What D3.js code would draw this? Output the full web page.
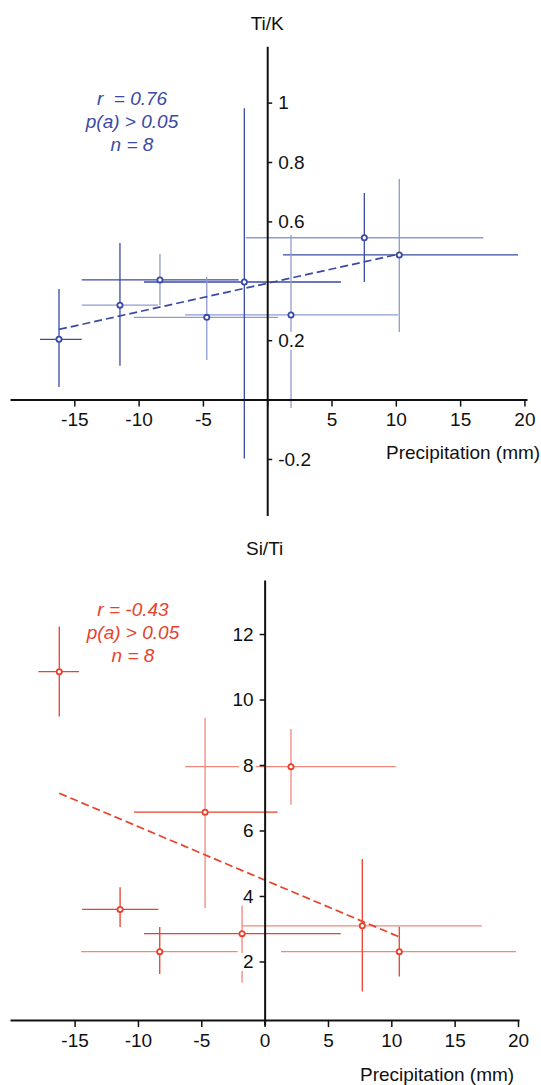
<!DOCTYPE html>
<html>
<head>
<meta charset="utf-8">
<script src="https://cdn.jsdelivr.net/npm/d3@7"></script>
<style>
  body { margin: 0; background: #fff; }
  text { font-family: "Liberation Sans", Arial, sans-serif; }
</style>
</head>
<body>
<div id="chart"></div>
<script>
// precipitation ticks shared by both panels
var xTicks = [-15, -10, -5, 0, 5, 10, 15, 20];

// Ti/K panel
var tiX   = [-16.19, -11.45, -8.34, -4.70, -1.78, 1.85, 7.55, 10.27];
var tiXLo = [-17.67, -14.42, -14.42, -10.36, -9.58, -6.39, -1.67, 1.23];
var tiXHi = [-14.42, -8.51, -2.22, 0.84, 5.74, 10.17, 16.80, 19.50];
var tiY   = [0.203, 0.318, 0.403, 0.277, 0.396, 0.285, 0.545, 0.487];
var tiYLo = [0.042, 0.114, 0.318, 0.133, -0.198, -0.028, 0.396, 0.228];
var tiYHi = [0.372, 0.527, 0.490, 0.413, 0.981, 0.554, 0.696, 0.743];
var tiYTicks = [-0.2, 0.2, 0.6, 0.8, 1];
var tiStats = ["r  = 0.76", "p(a) > 0.05", "n = 8"];

// Si/Ti panel
var siX   = [-16.21, -11.41, -8.28, -4.70, -1.78, 2.08, 7.71, 10.63];
var siXLo = [-17.86, -14.41, -14.49, -10.31, -9.52, -6.28, -1.76, 1.29];
var siXHi = [-14.65, -8.39, -2.12, 1.03, 6.01, 10.35, 17.14, 19.85];
var siY   = [10.85, 3.59, 2.30, 6.56, 2.85, 7.95, 3.09, 2.30];
var siYLo = [9.48, 3.05, 1.62, 3.63, 1.35, 6.79, 1.08, 1.54];
var siYHi = [12.23, 4.27, 3.05, 9.44, 3.93, 9.10, 5.13, 3.06];
var siYTicks = [2, 4, 6, 8, 10, 12];
var siStats = ["r = -0.43", "p(a) > 0.05", "n = 8"];

// which error bars are drawn in the paler tint
var tiPaleH = [0, 1, 0, 1, 0, 1, 1, 0], tiPaleV = [0, 0, 1, 1, 0, 1, 0, 1];
var siPaleH = [0, 0, 1, 0, 0, 1, 1, 1], siPaleV = [0, 0, 0, 1, 1, 1, 0, 0];

var width = 541, height = 1085;
var svg = d3.select("#chart").append("svg")
    .attr("width", width)
    .attr("height", height);

function rows(x, xLo, xHi, y, yLo, yHi, paleH, paleV) {
    return x.map(function (v, i) {
        return {x: v, xLo: xLo[i], xHi: xHi[i], y: y[i], yLo: yLo[i], yHi: yHi[i],
                paleH: paleH[i], paleV: paleV[i]};
    });
}

function fit(data) {
    var mx = d3.mean(data, function (d) { return d.x; }),
        my = d3.mean(data, function (d) { return d.y; });
    var sxy = d3.sum(data, function (d) { return (d.x - mx) * (d.y - my); }),
        sxx = d3.sum(data, function (d) { return (d.x - mx) * (d.x - mx); });
    var b = sxy / sxx, a = my - b * mx;
    var x0 = d3.min(data, function (d) { return d.x; }),
        x1 = d3.max(data, function (d) { return d.x; });
    return [[x0, a + b * x0], [x1, a + b * x1]];
}

function panel(o) {
    var g = svg.append("g");
    var x = d3.scaleLinear().domain(o.xDomain).range(o.xRange);
    var y = d3.scaleLinear().domain(o.yDomain).range(o.yRange);
    var data = o.data;

    // error bars
    g.selectAll(".hbar").data(data).enter().append("line")
        .attr("x1", function (d) { return x(d.xLo); })
        .attr("x2", function (d) { return x(d.xHi); })
        .attr("y1", function (d) { return y(d.y); })
        .attr("y2", function (d) { return y(d.y); })
        .attr("stroke", function (d) { return d.paleH ? o.pale : o.dark; })
        .attr("stroke-width", 1.3);
    g.selectAll(".vbar").data(data).enter().append("line")
        .attr("x1", function (d) { return x(d.x); })
        .attr("x2", function (d) { return x(d.x); })
        .attr("y1", function (d) { return y(d.yLo); })
        .attr("y2", function (d) { return y(d.yHi); })
        .attr("stroke", function (d) { return d.paleV ? o.pale : o.dark; })
        .attr("stroke-width", 1.3);

    // regression
    var trend = fit(data);
    g.append("path")
        .attr("d", d3.line().x(function (d) { return x(d[0]); }).y(function (d) { return y(d[1]); })(trend))
        .attr("fill", "none")
        .attr("stroke", o.dark)
        .attr("stroke-width", 1.7)
        .attr("stroke-dasharray", "8,4");

    g.selectAll(".pt").data(data).enter().append("circle")
        .attr("cx", function (d) { return x(d.x); })
        .attr("cy", function (d) { return y(d.y); })
        .attr("r", 2.6)
        .attr("fill", "#fff")
        .attr("stroke", o.dark)
        .attr("stroke-width", 1.8);

    // axes
    var x0 = x(0), yCross = y(o.xAxisAt);
    var xAxis = d3.axisBottom(x)
        .tickValues(xTicks)
        .tickSizeInner(7)
        .tickSizeOuter(0)
        .tickPadding(6)
        .tickFormat(function (d) { return (d === 0 && !o.showZero) ? "" : d; });
    var gx = g.append("g")
        .attr("transform", "translate(0," + yCross + ")")
        .call(xAxis);

    var yAxis = (o.ySide === "right" ? d3.axisRight(y) : d3.axisLeft(y))
        .tickValues(o.yTicks)
        .tickSizeInner(5)
        .tickSizeOuter(0)
        .tickPadding(6)
        .tickFormat(function (d) { return d; });
    var gy = g.append("g")
        .attr("transform", "translate(" + x0 + ",0)")
        .call(yAxis);

    [gx, gy].forEach(function (ax) {
        ax.select(".domain").attr("stroke", "#111").attr("stroke-width", 2);
        ax.selectAll(".tick line").attr("stroke", "#111").attr("stroke-width", 1.5);
        ax.selectAll(".tick text")
            .attr("fill", "#111")
            .style("font-size", "19px")
            .style("font-family", "'Liberation Sans', Arial, sans-serif");
    });
    // y labels sit on white patches that hide the bars behind them
    gy.selectAll(".tick").each(function () {
        var t = d3.select(this).select("text");
        var bb = t.node().getBBox();
        d3.select(this).insert("rect", "text")
            .attr("x", bb.x - 4).attr("y", bb.y + 2)
            .attr("width", bb.width + 6).attr("height", bb.height - 3)
            .attr("fill", "#fff");
    });
    gx.raise();
    gy.raise();

    g.append("text")
        .attr("x", x0)
        .attr("y", o.titleY)
        .attr("text-anchor", "middle")
        .attr("fill", "#111")
        .style("font-size", "19px")
        .text(o.title);

    g.append("text")
        .attr("x", o.xLabelX)
        .attr("y", o.xLabelY)
        .attr("fill", "#111")
        .style("font-size", "19px")
        .text("Precipitation (mm)");

    g.selectAll(".stat").data(o.stats).enter().append("text")
        .attr("x", o.statX)
        .attr("y", function (d, i) { return o.statY + i * 23; })
        .attr("text-anchor", "middle")
        .attr("fill", o.dark)
        .style("font-size", "19px")
        .style("font-style", "italic")
        .style("white-space", "pre")
        .text(function (d) { return d; });
}

panel({
    data: rows(tiX, tiXLo, tiXHi, tiY, tiYLo, tiYHi, tiPaleH, tiPaleV),
    xDomain: [-20, 20.2], xRange: [10, 527],
    yDomain: [-0.39, 1.19], yRange: [515.4, 46.2],
    xAxisAt: 0, yTicks: tiYTicks, ySide: "right", showZero: false,
    dark: "#3a4aa4", pale: "#8f9bd0",
    title: "Ti/K", titleY: 30,
    xLabelX: 386, xLabelY: 459,
    stats: tiStats, statX: 132, statY: 104.5
});

panel({
    data: rows(siX, siXLo, siXHi, siY, siYLo, siYHi, siPaleH, siPaleV),
    xDomain: [-20.1, 20.08], xRange: [10, 519],
    yDomain: [0.06, 13.65], yRange: [1025, 580],
    xAxisAt: 0.21, yTicks: siYTicks, ySide: "left", showZero: true,
    dark: "#e8412c", pale: "#f2877b",
    title: "Si/Ti", titleY: 555,
    xLabelX: 360, xLabelY: 1081,
    stats: siStats, statX: 133, statY: 615.5
});
</script>
</body>
</html>
